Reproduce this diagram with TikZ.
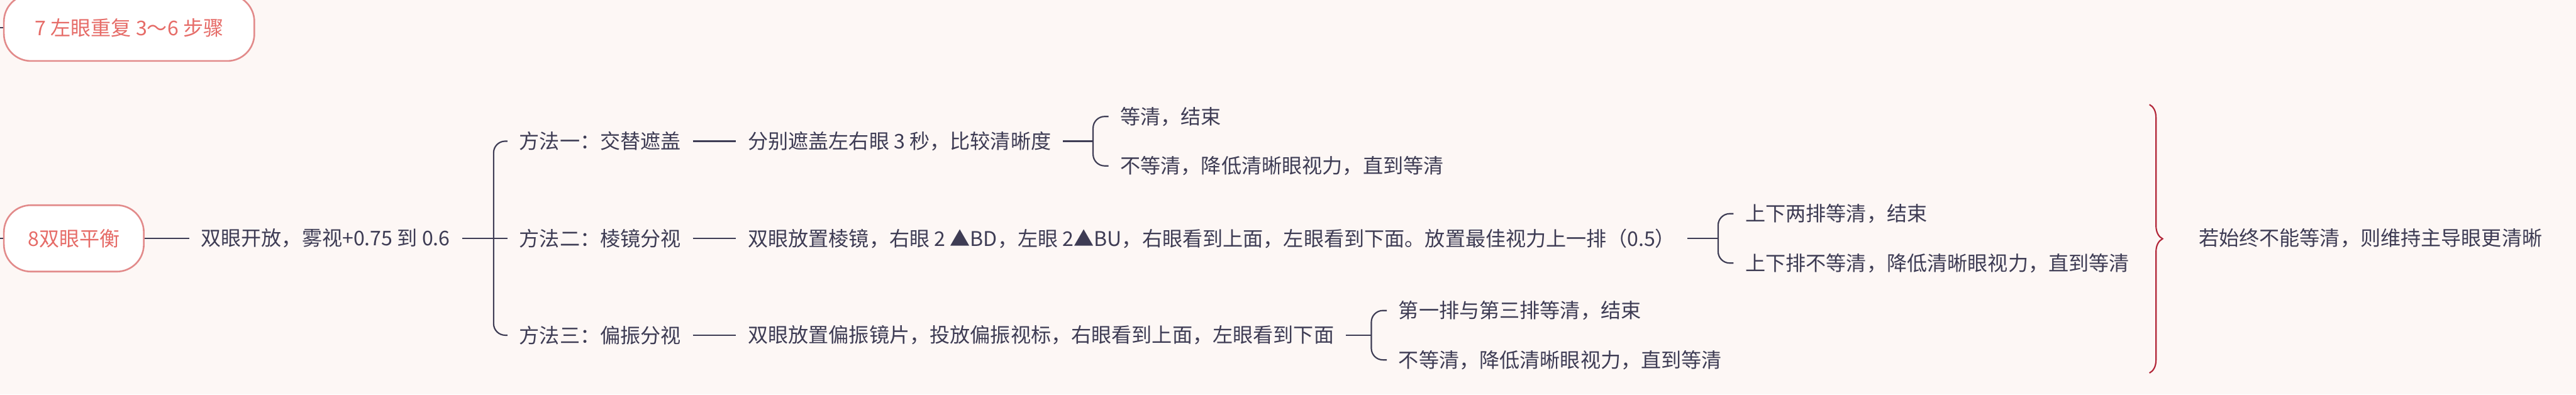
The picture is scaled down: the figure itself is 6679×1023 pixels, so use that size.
\documentclass[tikz,border=0pt]{standalone}
\usepackage{fontspec}
\setmainfont{Noto Sans CJK SC}
\usetikzlibrary{calc,positioning,decorations.pathreplacing}
\definecolor{bgpink}{RGB}{253,247,245}
\definecolor{inkgray}{RGB}{62,60,84}
\definecolor{rosedraw}{RGB}{226,138,138}
\definecolor{rosetext}{RGB}{230,108,104}
\definecolor{bracered}{RGB}{178,38,56}

\begin{document}
\begin{tikzpicture}[x=0.01cm, y=-0.01cm, font=\fontsize{14.9pt}{18pt}\selectfont,
  topic/.style={draw=rosedraw, line width=1.2pt, fill=white, text=rosetext,
    rounded corners=0.7cm, minimum height=1.72cm, inner xsep=0.62cm},
  leaf/.style={text=inkgray, inner xsep=0.3cm, inner ysep=0pt},
  link/.style={draw=inkgray, line width=1pt},
  bracket/.style={draw=inkgray, line width=1pt, rounded corners=0.3cm}]
\fill[bgpink] (0,0) rectangle (6679,1023);
\useasboundingbox (0,0) rectangle (6679,1023);

% topics
\node[topic, anchor=west, inner xsep=0.8cm] (n7) at (8,72) {7 左眼重复 3～6 步骤};
\node[topic, anchor=west] (n8) at (8,618) {8双眼平衡};
\coordinate (in7) at (-10,72);
\coordinate (in8) at (-10,618);
\draw[link] (in7) -- (n7.west);
\draw[link] (in8) -- (n8.west);

\node[leaf, right=1.15cm of n8] (fog) {双眼开放，雾视+0.75 到 0.6};
\coordinate[right=0.82cm of fog] (fork);

% methods
\node[leaf, anchor=west] (m2) at ($(fork)+(36,0)$) {方法二：棱镜分视};
\node[leaf, anchor=west] (m1) at ($(m2.west)+(0,-252)$) {方法一：交替遮盖};
\node[leaf, anchor=west] (m3) at ($(m2.west)+(0,251)$) {方法三：偏振分视};
\draw[link] (n8) -- (fog);
\draw[link] (fog) -- (m2);
\draw[bracket] (m1.west) -| (fork) |- (m3.west);

\node[leaf, right=1.12cm of m1] (d1) {分别遮盖左右眼 3 秒，比较清晰度};
\node[leaf, right=1.12cm of m2] (d2) {双眼放置棱镜，右眼 2 ▲BD，左眼 2▲BU，右眼看到上面，左眼看到下面。放置最佳视力上一排（0.5）};
\node[leaf, right=1.12cm of m3] (d3) {双眼放置偏振镜片，投放偏振视标，右眼看到上面，左眼看到下面};
\draw[link] (m1) -- (d1);
\draw[link] (m2) -- (d2);
\draw[link] (m3) -- (d3);

% outcomes
\coordinate[right=0.78cm of d1] (f1);
\coordinate[right=0.8cm of d2] (f2);
\coordinate[right=0.66cm of d3] (f3);
\node[leaf, anchor=west] (c11) at ($(f1)+(40,-64)$) {等清，结束};
\node[leaf, anchor=west] (c12) at ($(f1)+(40,64)$) {不等清，降低清晰眼视力，直到等清};
\node[leaf, anchor=west] (c21) at ($(f2)+(40,-64)$) {上下两排等清，结束};
\node[leaf, anchor=west] (c22) at ($(f2)+(40,64)$) {上下排不等清，降低清晰眼视力，直到等清};
\node[leaf, anchor=west] (c31) at ($(f3)+(40,-64)$) {第一排与第三排等清，结束};
\node[leaf, anchor=west] (c32) at ($(f3)+(40,64)$) {不等清，降低清晰眼视力，直到等清};
\foreach \i in {1,2,3} {
  \draw[link] (d\i) -- (f\i);
  \draw[bracket] (c\i1.west) -| (f\i) |- (c\i2.west);
}

% summary
\draw[bracered, line width=1pt, decorate, decoration={brace, amplitude=0.34cm}]
  (5573,271) -- (5573,967) coordinate[midway, xshift=0.34cm] (tip);
\node[leaf, anchor=west] (keep) at (5670,618) {若始终不能等清，则维持主导眼更清晰};
\end{tikzpicture}
\end{document}
